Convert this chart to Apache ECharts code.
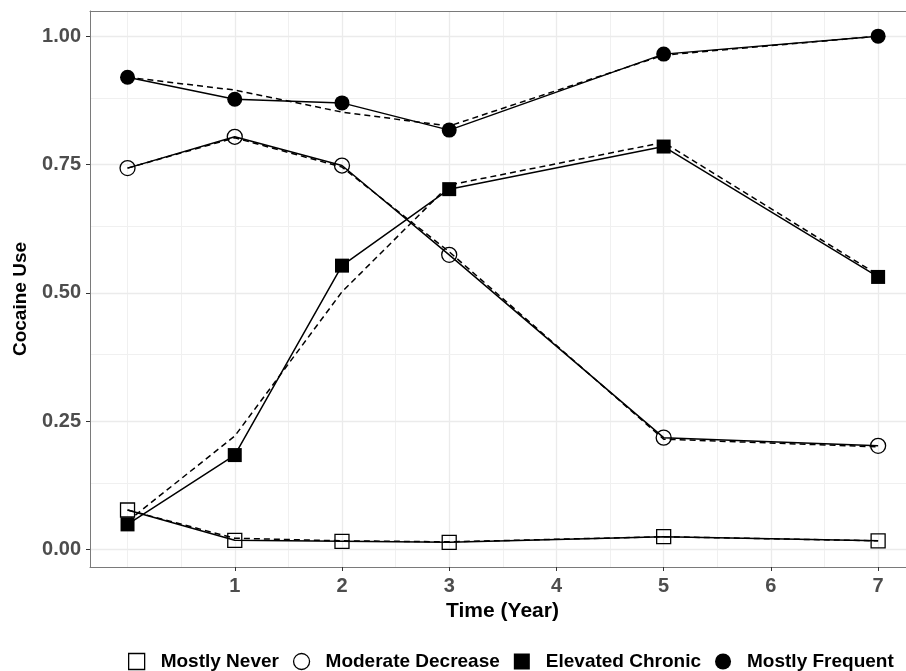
<!DOCTYPE html>
<html>
<head>
<meta charset="utf-8">
<script src="https://cdn.jsdelivr.net/npm/echarts@6/dist/echarts.min.js"></script>
<style>
html,body{margin:0;padding:0;background:#fff;}
#chart{width:906px;height:671px;}
</style>
</head>
<body>
<div id="chart"></div>
<script>
// ---- data ----
var years = [0, 1, 2, 3, 5, 7];
var xTickLabels = [1, 2, 3, 4, 5, 6, 7];
var yTickLabels = [0, 0.25, 0.5, 0.75, 1.0];
var xGridMinor = [0.5, 1.5, 2.5, 3.5, 4.5, 5.5, 6.5, 0];
var yGridMinor = [0.125, 0.375, 0.625, 0.875];
var groupNames = ['Mostly Never', 'Moderate Decrease', 'Elevated Chronic', 'Mostly Frequent'];

// observed (solid lines with markers)
var mostlyNever      = [0.077, 0.018, 0.016, 0.014, 0.025, 0.017];
var moderateDecrease = [0.743, 0.804, 0.748, 0.574, 0.218, 0.202];
var elevatedChronic  = [0.049, 0.184, 0.553, 0.702, 0.785, 0.531];
var mostlyFrequent   = [0.920, 0.877, 0.870, 0.817, 0.965, 1.000];

// estimated (dashed lines)
var mostlyNeverFit      = [0.077, 0.022, 0.017, 0.015, 0.025, 0.017];
var moderateDecreaseFit = [0.743, 0.802, 0.745, 0.580, 0.215, 0.200];
var elevatedChronicFit  = [0.055, 0.221, 0.502, 0.710, 0.793, 0.535];
var mostlyFrequentFit   = [0.920, 0.895, 0.852, 0.825, 0.963, 1.000];

var observed = [mostlyNever, moderateDecrease, elevatedChronic, mostlyFrequent];
var fitted = [mostlyNeverFit, moderateDecreaseFit, elevatedChronicFit, mostlyFrequentFit];

// ---- styling ----
var FONT = 'Liberation Sans, Arial, Helvetica, sans-serif';
var symbols = ['rect', 'circle', 'rect', 'circle'];
var filled = [false, false, true, true];
var X_MIN = -0.35, X_MAX = 7.26, Y_MIN = -0.034, Y_MAX = 1.049;
var BORDER = '#7a7a7a';

function pairs(arr) {
  return years.map(function (x, i) { return [x, arr[i]]; });
}

var series = [];

// gridlines via markLine on a dummy series
var gridData = [];
xTickLabels.forEach(function (v) { gridData.push({ xAxis: v, lineStyle: { color: '#ebebeb', width: 1.3 } }); });
xGridMinor.forEach(function (v) { gridData.push({ xAxis: v, lineStyle: { color: '#f0f0f0', width: 1 } }); });
yTickLabels.forEach(function (v) { gridData.push({ yAxis: v, lineStyle: { color: '#ebebeb', width: 1.3 } }); });
yGridMinor.forEach(function (v) { gridData.push({ yAxis: v, lineStyle: { color: '#f0f0f0', width: 1 } }); });
series.push({
  type: 'line', name: '_grid', data: [], silent: true, z: 0,
  markLine: {
    silent: true, symbol: ['none', 'none'], z: 0, animation: false,
    label: { show: false },
    lineStyle: { type: 'solid' },
    emphasis: { disabled: true },
    data: gridData
  }
});

for (var i = 0; i < 4; i++) {
  series.push({
    type: 'line', name: groupNames[i] + ' (est)', data: pairs(fitted[i]),
    showSymbol: false, symbol: 'none', z: 3,
    lineStyle: { color: '#000', width: 1.5, type: [6, 4] },
    itemStyle: { color: '#000' },
    animation: false, silent: true
  });
}
for (var j = 0; j < 4; j++) {
  series.push({
    type: 'line', name: groupNames[j], data: pairs(observed[j]),
    symbol: symbols[j], symbolSize: (symbols[j] === 'rect' ? 14 : 15), showSymbol: true, z: 4,
    lineStyle: { color: '#000', width: 1.5 },
    itemStyle: filled[j]
      ? { color: '#000', borderColor: '#000', borderWidth: 0 }
      : { color: 'rgba(0,0,0,0)', borderColor: '#000', borderWidth: 1.3 },
    animation: false, silent: true
  });
}

var legendData = groupNames.map(function (n, k) {
  return {
    name: n,
    icon: symbols[k],
    itemStyle: filled[k]
      ? { color: '#000', borderWidth: 0 }
      : { color: '#fff', borderColor: '#000', borderWidth: 1.3 }
  };
});

var chart = echarts.init(document.getElementById('chart'), null, { renderer: 'canvas' });
chart.setOption({
  backgroundColor: '#fff',
  animation: false,
  grid: {
    left: 90, top: 11, right: 0, bottom: 104,
    show: false, containLabel: false
  },
  xAxis: [{
    type: 'value', min: X_MIN, max: X_MAX, position: 'bottom',
    name: 'Time (Year)', nameLocation: 'middle', nameGap: 31,
    nameTextStyle: { fontFamily: FONT, fontWeight: 'bold', fontSize: 21, color: '#000', padding: [0, 0, 0, 9] },
    axisLine: { show: true, onZero: false, lineStyle: { color: BORDER, width: 1 } },
    splitLine: { show: false },
    axisTick: { show: true, length: 4, customValues: xTickLabels, lineStyle: { color: '#333', width: 1 } },
    axisLabel: {
      customValues: xTickLabels, margin: 9,
      fontFamily: FONT, fontWeight: 'bold', fontSize: 20, color: '#4d4d4d',
      formatter: function (v) { return String(v); }
    }
  }, {
    type: 'value', min: X_MIN, max: X_MAX, position: 'top',
    axisLine: { show: true, onZero: false, lineStyle: { color: BORDER, width: 1 } },
    splitLine: { show: false }, axisTick: { show: false }, axisLabel: { show: false }
  }],
  yAxis: {
    type: 'value', min: Y_MIN, max: Y_MAX,
    name: 'Cocaine Use', nameLocation: 'middle', nameGap: 60, nameRotate: 90,
    nameTextStyle: { fontFamily: FONT, fontWeight: 'bold', fontSize: 19, color: '#000', padding: [0, 20, 0, 0] },
    axisLine: { show: true, onZero: false, lineStyle: { color: BORDER, width: 1 } },
    splitLine: { show: false },
    axisTick: { show: true, length: 4, customValues: yTickLabels, lineStyle: { color: '#333', width: 1 } },
    axisLabel: {
      customValues: yTickLabels, margin: 9,
      fontFamily: FONT, fontWeight: 'bold', fontSize: 20, color: '#4d4d4d',
      formatter: function (v) { return v.toFixed(2); }
    }
  },
  legend: {
    top: 647, left: 123,
    orient: 'horizontal',
    itemWidth: 16, itemHeight: 16, itemGap: 14,
    selectedMode: false,
    textStyle: { fontFamily: FONT, fontWeight: 'bold', fontSize: 19, color: '#000', padding: [0, 0, 0, 11] },
    data: legendData
  },
  series: series
});
</script>
</body>
</html>
